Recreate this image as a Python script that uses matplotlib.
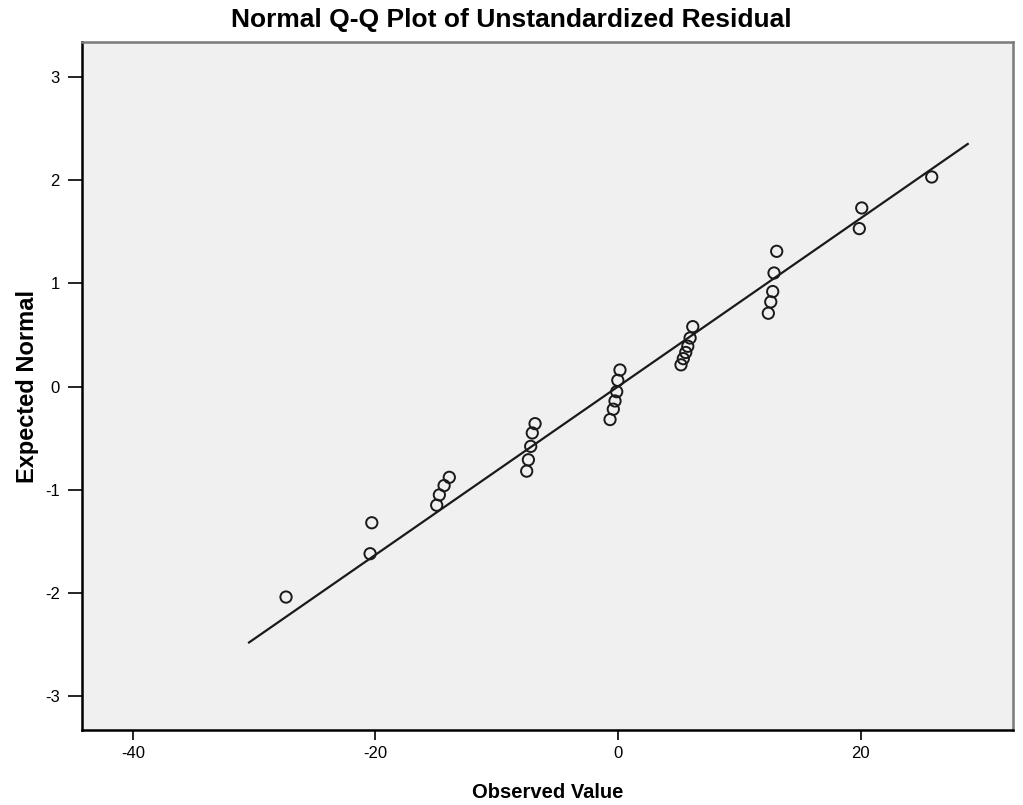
import matplotlib
matplotlib.use("Agg")
import matplotlib.pyplot as plt

# Observed residuals and their expected normal quantiles
observed = [-27.37, -20.44, -20.30, -14.95, -14.73, -14.34, -13.91,
            -7.53, -7.39, -7.20, -7.07, -6.84,
            -0.66, -0.39, -0.25, -0.11, -0.02, 0.16,
            5.19, 5.38, 5.58, 5.75, 5.94, 6.16,
            12.39, 12.59, 12.75, 12.86, 13.08,
            19.89, 20.09, 25.86]
expected = [-2.04, -1.62, -1.32, -1.15, -1.05, -0.96, -0.88,
            -0.82, -0.71, -0.58, -0.45, -0.36,
            -0.32, -0.22, -0.14, -0.05, 0.06, 0.16,
            0.21, 0.27, 0.33, 0.39, 0.47, 0.58,
            0.71, 0.82, 0.92, 1.10, 1.31,
            1.53, 1.73, 2.03]

# Reference line endpoints
line_x = [-30.42, 28.83]
line_y = [-2.48, 2.35]

x_ticks = [-40, -20, 0, 20]
y_ticks = [-3, -2, -1, 0, 1, 2, 3]

plt.rcParams['font.family'] = ['Liberation Sans', 'DejaVu Sans']
plt.rcParams['axes.unicode_minus'] = False

fig = plt.figure(figsize=(10.23, 8.05), dpi=100)
ax = fig.add_axes([82/1023, 1-730/805, (1013-82)/1023, (730-42)/805])
ax.set_facecolor('#f0f0f0')

ax.plot(line_x, line_y, color='#1a1a1a', lw=1.6, zorder=2)
ax.scatter(observed, expected, s=66, facecolors='none', edgecolors='#1a1a1a',
           linewidths=1.4, zorder=3)

ax.set_xlim(-44.19, 32.56)
ax.set_ylim(-3.328, 3.338)
ax.set_xticks(x_ticks)
ax.set_yticks(y_ticks)
ax.tick_params(axis='x', direction='out', length=7.2, width=1.2,
               labelsize=12, color='black', pad=4)
ax.tick_params(axis='y', direction='out', length=10, width=1.2,
               labelsize=12, color='black', pad=6)

for s in ['left', 'bottom']:
    ax.spines[s].set_color('black')
    ax.spines[s].set_linewidth(1.8)
for s in ['top', 'right']:
    ax.spines[s].set_color('#7a7a7a')
    ax.spines[s].set_linewidth(1.8)

ax.set_xlabel('Observed Value', fontsize=14.5, fontweight='bold', va='center')
ax.xaxis.set_label_coords(0.5, (730-792)/688)
ax.set_ylabel('Expected Normal', fontsize=17, fontweight='bold', va='center')
ax.yaxis.set_label_coords((28-82)/931, 0.5)
fig.text(0.5, 1-20/805, 'Normal Q-Q Plot of Unstandardized Residual',
         ha='center', va='center', fontsize=19, fontweight='bold')

fig.savefig('out.png', dpi=100, facecolor='white')
